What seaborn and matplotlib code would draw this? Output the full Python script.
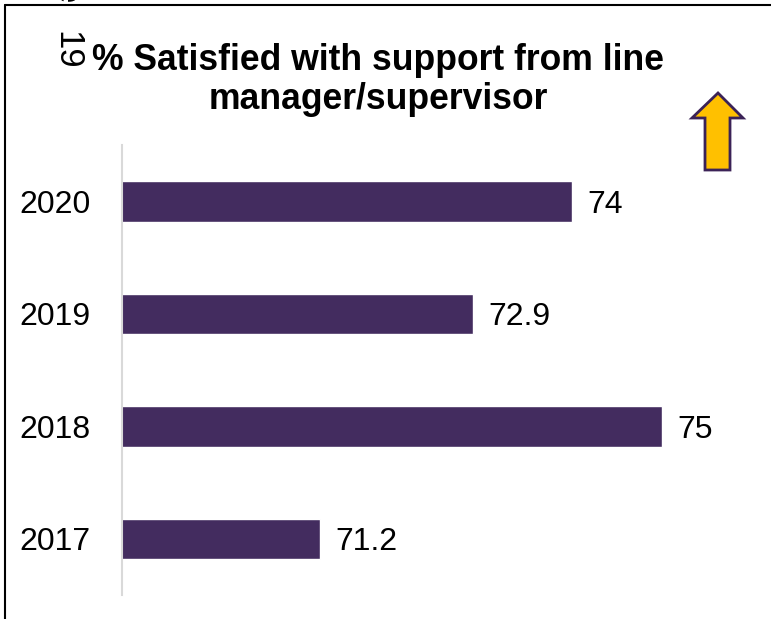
import matplotlib
matplotlib.use("Agg")
import matplotlib.pyplot as plt
from matplotlib.patches import Polygon
from matplotlib.lines import Line2D
import seaborn as sns
import pandas as pd

years = ["2020", "2019", "2018", "2017"]
satisfied = [74, 72.9, 75, 71.2]
value_labels = ["74", "72.9", "75", "71.2"]
title = "% Satisfied with support from line\nmanager/supervisor"

sns.set_theme(style="white")
plt.rcParams["font.family"] = ["Liberation Sans", "DejaVu Sans"]
plt.rcParams["text.color"] = "black"

W, H = 771, 619
fig = plt.figure(figsize=(W / 100, H / 100), dpi=100)
ax = fig.add_axes([122 / W, 24 / H, 630 / W, 450 / H])

df = pd.DataFrame({"year": years, "pct": satisfied})
sns.barplot(data=df, x="pct", y="year", order=years, orient="h",
            color="#432C5F", saturation=1, width=0.36, ax=ax)

ax.set_xlim(69, 76)
ax.set_ylim(3.5, -0.5)
ax.set_xlabel("")
ax.set_ylabel("")
ax.set_xticks([])
ax.tick_params(axis="y", labelsize=23, colors="black", length=0, pad=22.5)
for s in ["top", "right", "bottom"]:
    ax.spines[s].set_visible(False)
ax.spines["left"].set_color("#D9D9D9")
ax.spines["left"].set_linewidth(1.5)

labels = ax.bar_label(ax.containers[0], labels=value_labels, padding=11,
                      fontsize=23, color="black")
for t in labels:
    t.set_va("center_baseline")

# heading
fig.text(378 / W, 1 - 80 / H, title, ha="center", va="center",
         fontsize=25.6, fontweight="bold", linespacing=1.15, color="black")

# rotated page marker at the top-left
fig.text(67 / W, 1 - 50 / H, "19", rotation=-90, ha="center", va="center",
         fontsize=25, color="black")
fig.text(66 / W, 1 + 6 / H, "e", rotation=-90, ha="center", va="center",
         fontsize=25, color="black")

# frame lines
fig.add_artist(Line2D([5 / W, 1], [1 - 5 / H, 1 - 5 / H], color="black", lw=1.5))
fig.add_artist(Line2D([5 / W, 5 / W], [0, 1 - 5 / H], color="black", lw=1.5))

# upward arrow
pts = [(718, 93), (743, 118), (730, 118), (730, 170), (705, 170),
       (705, 118), (692, 118)]
arrow = Polygon([(x / W, 1 - y / H) for x, y in pts], closed=True,
                transform=fig.transFigure, facecolor="#FFC000",
                edgecolor="#3B2257", lw=2)
fig.add_artist(arrow)

fig.savefig("out.png", dpi=100)
